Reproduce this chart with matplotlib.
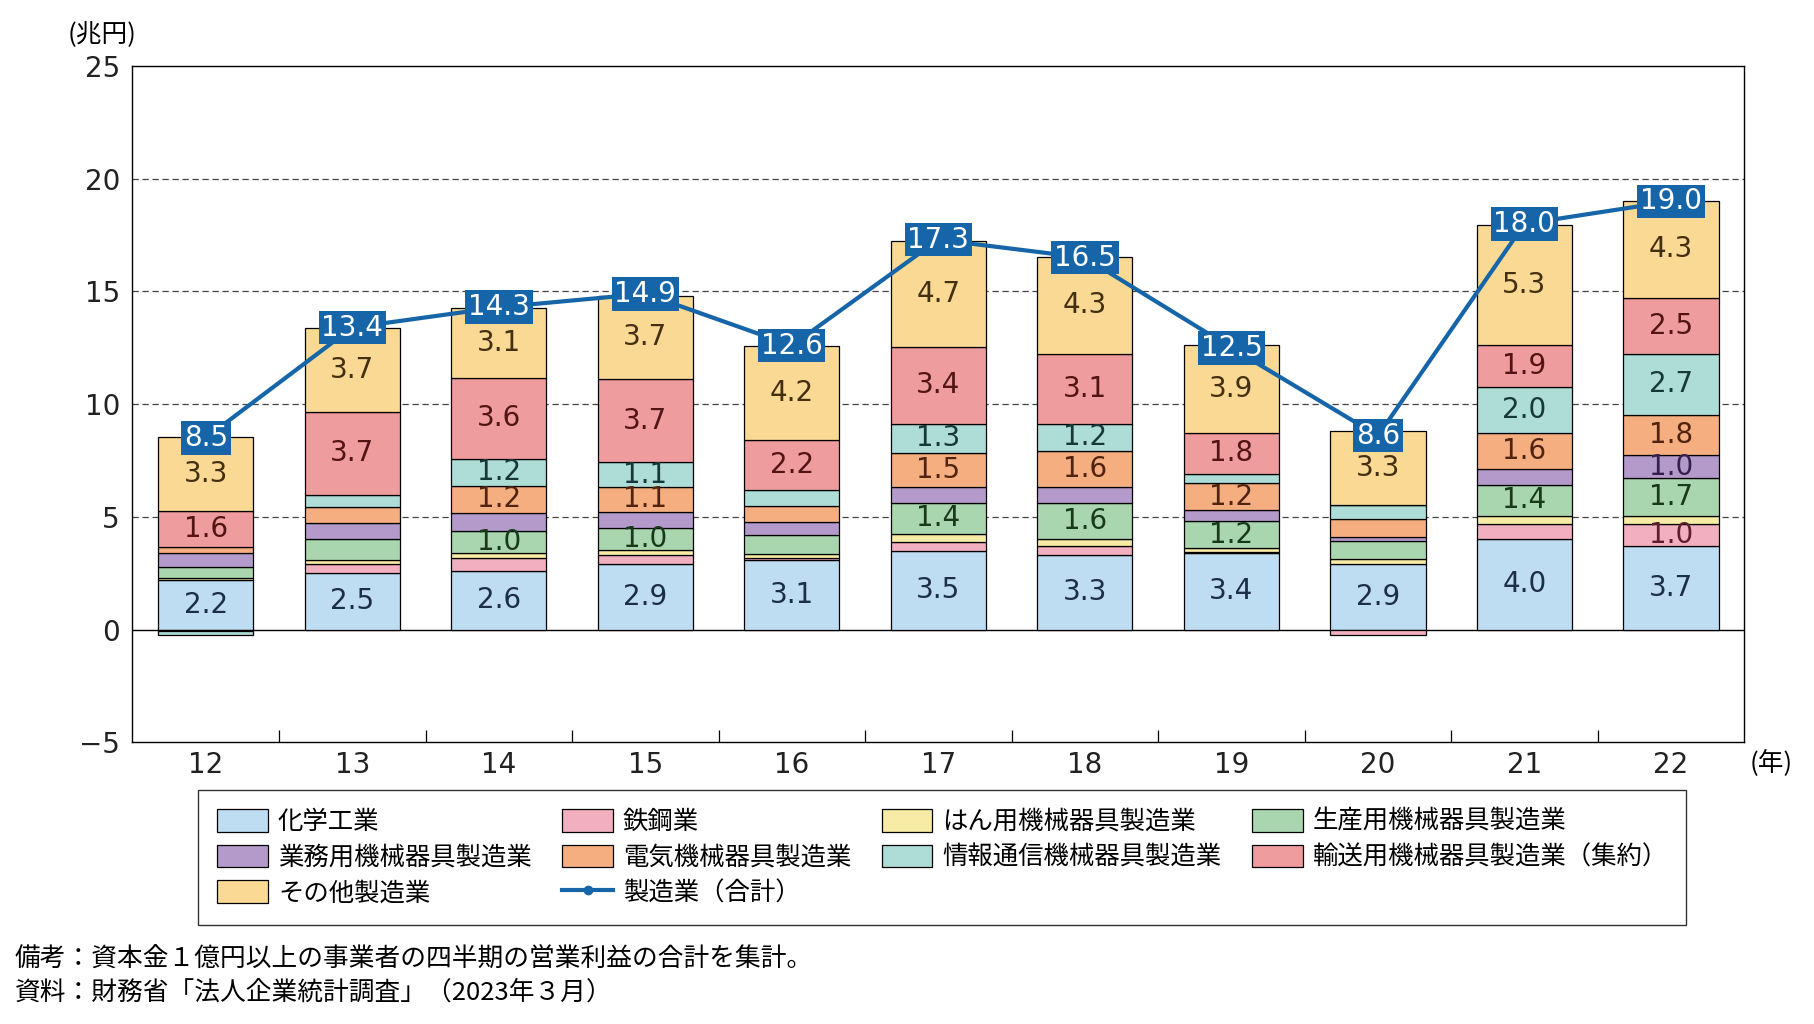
import numpy as np
import matplotlib
matplotlib.use("Agg")
import matplotlib.pyplot as plt
from matplotlib.patches import Patch
from matplotlib.lines import Line2D

plt.rcParams['font.family'] = ['Noto Sans CJK JP', 'DejaVu Sans']
num_font = ['DejaVu Sans']

years = ["12", "13", "14", "15", "16", "17", "18", "19", "20", "21", "22"]

# segment values (兆円), bottom to top
chem = [2.2, 2.5, 2.6, 2.9, 3.1, 3.5, 3.3, 3.4, 2.9, 4.0, 3.7]
steel = [-0.08, 0.4, 0.58, 0.42, 0.07, 0.39, 0.39, 0.03, -0.24, 0.7, 1.0]
general = [0.07, 0.2, 0.2, 0.2, 0.2, 0.34, 0.33, 0.18, 0.22, 0.33, 0.33]
production = [0.5, 0.9, 1.0, 1.0, 0.82, 1.4, 1.6, 1.2, 0.8, 1.4, 1.7]
business = [0.62, 0.71, 0.8, 0.7, 0.58, 0.7, 0.71, 0.49, 0.18, 0.71, 1.0]
electric = [0.27, 0.71, 1.2, 1.1, 0.71, 1.5, 1.6, 1.2, 0.8, 1.6, 1.8]
ict = [-0.15, 0.55, 1.2, 1.1, 0.71, 1.3, 1.2, 0.42, 0.62, 2.0, 2.7]
transport = [1.6, 3.7, 3.6, 3.7, 2.2, 3.4, 3.1, 1.8, 0.0, 1.9, 2.5]
other = [3.3, 3.7, 3.1, 3.7, 4.2, 4.7, 4.3, 3.9, 3.3, 5.3, 4.3]

total = [8.5, 13.4, 14.3, 14.9, 12.6, 17.3, 16.5, 12.5, 8.6, 18.0, 19.0]

names = ["化学工業", "鉄鋼業", "はん用機械器具製造業", "生産用機械器具製造業",
         "業務用機械器具製造業", "電気機械器具製造業", "情報通信機械器具製造業",
         "輸送用機械器具製造業（集約）", "その他製造業"]
series = [chem, steel, general, production, business, electric, ict, transport, other]
colors = ["#BEDCF2", "#F2AFBF", "#F8EBA6", "#A9D6AF", "#B39ACB",
          "#F5AE7F", "#AEDCD7", "#EF9C9E", "#FAD994"]
text_colors = ["#1C2E48", "#5E1E2C", "#4F4210", "#183A1A", "#36214E",
               "#512410", "#173838", "#521414", "#433010"]
line_color = "#1565A8"

fig = plt.figure(figsize=(18.15, 10.24), dpi=100)
ax = fig.add_axes([0.073, 0.2752, 0.888, 0.6602])

x = np.arange(len(years))
width = 0.65
pos_bottom = np.zeros(len(years))
neg_bottom = np.zeros(len(years))
for vals, col, tcol in zip(series, colors, text_colors):
    vals = np.array(vals)
    bottoms = np.where(vals >= 0, pos_bottom, neg_bottom)
    ax.bar(x, vals, width, bottom=bottoms, color=col, edgecolor="black",
           linewidth=0.9, zorder=2)
    for xi, v, b in zip(x, vals, bottoms):
        if round(v, 1) >= 1.0:
            ax.text(xi, b + v / 2, f"{v:.1f}", ha="center", va="center",
                    fontsize=20, color=tcol, zorder=3, family=num_font)
    pos_bottom += np.where(vals >= 0, vals, 0)
    neg_bottom += np.where(vals < 0, vals, 0)

ax.plot(x, total, color=line_color, linewidth=3, marker="o", markersize=5,
        zorder=4)
for xi, t in zip(x, total):
    ax.text(xi, t, f"{t:.1f}", ha="center", va="center", fontsize=20,
            color="white", zorder=5, family=num_font,
            bbox=dict(boxstyle="square,pad=0.1", facecolor=line_color,
                      edgecolor="none"))

ax.set_ylim(-5, 25)
ax.set_xlim(-0.5, len(years) - 0.5)
ax.set_yticks([-5, 0, 5, 10, 15, 20, 25])
ax.set_xticks(x)
ax.set_xticklabels(years)
ax.set_xticks(np.arange(0.5, len(years) - 1, 1), minor=True)
ax.tick_params(axis="both", which="major", length=0, labelsize=20,
               colors="#222222")
ax.tick_params(axis="y", which="major", pad=9)
ax.tick_params(axis="x", which="major", pad=6)
ax.tick_params(axis="x", which="minor", direction="in", length=9, width=0.9)
for lab in ax.get_xticklabels() + ax.get_yticklabels():
    lab.set_family(num_font)
for y in [5, 10, 15, 20]:
    ax.axhline(y, color="#444444", linestyle=(0, (5, 3)), linewidth=0.9,
               zorder=1)
ax.axhline(0, color="black", linewidth=1.0, zorder=1)
for s in ax.spines.values():
    s.set_linewidth(1.0)

fig.text(0.037, 0.966, "(兆円)", fontsize=18.5, ha="left", va="center")
fig.text(0.964, 0.255, "(年)", fontsize=18.5, ha="left", va="center")

handles = [Patch(facecolor=c, edgecolor="black", linewidth=0.9) for c in colors]
line_handle = Line2D([], [], color=line_color, linewidth=3, marker="o",
                     markersize=6)
order = [0, 4, 8, 1, 5, None, 2, 6, 3, 7]
leg_handles = [line_handle if i is None else handles[i] for i in order]
leg_labels = ["製造業（合計）" if i is None else names[i] for i in order]
leg = fig.legend(leg_handles, leg_labels, loc="upper left",
                 bbox_to_anchor=(0.1093, 0.2288), borderaxespad=0, ncol=4,
                 fontsize=18.3, frameon=True, fancybox=False,
                 edgecolor="black", handlelength=2.0, handleheight=1.0,
                 handletextpad=0.38, columnspacing=1.2, labelspacing=0.38,
                 borderpad=0.75)
leg.get_frame().set_linewidth(1.0)

fig.text(0.008, 0.0623, "備考：資本金１億円以上の事業者の四半期の営業利益の合計を集計。",
         fontsize=18.5, ha="left", va="center")
fig.text(0.008, 0.0306, "資料：財務省「法人企業統計調査」（2023年３月）",
         fontsize=18.5, ha="left", va="center")

fig.savefig("out.png", dpi=100)
